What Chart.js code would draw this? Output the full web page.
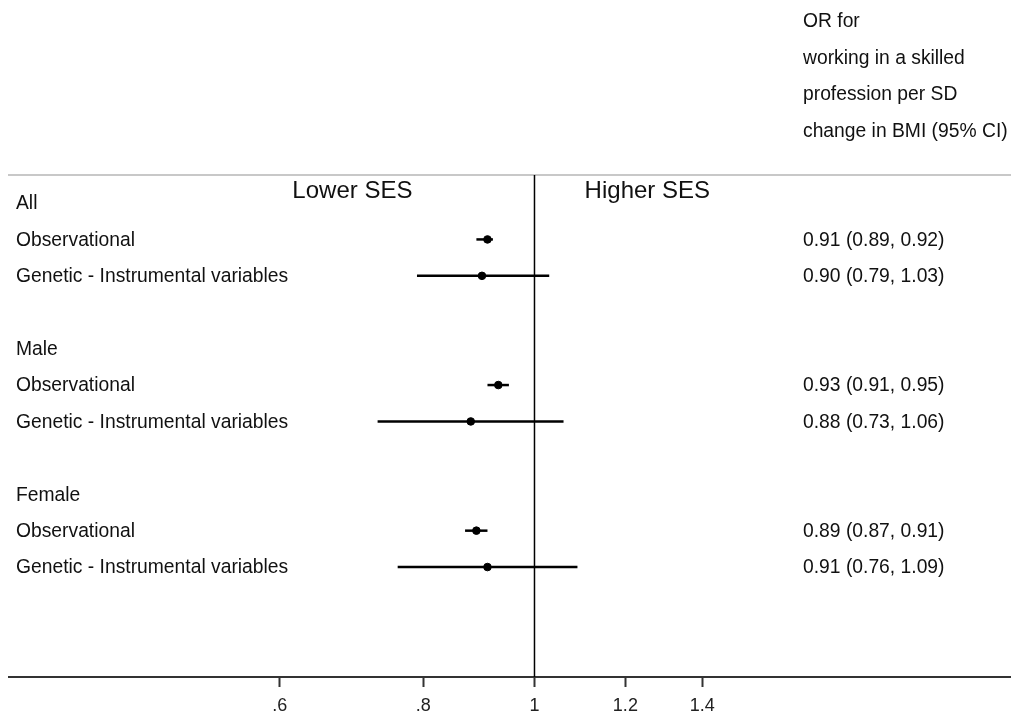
<!DOCTYPE html>
<html>
<head>
<meta charset="utf-8">
<script src="https://cdn.jsdelivr.net/npm/chart.js@4.4.1/dist/chart.umd.min.js"></script>
<style>
  html, body { margin: 0; padding: 0; background: #fff; }
  #forest { display: block; }
</style>
</head>
<body>
<canvas id="forest" width="1011" height="715"></canvas>
<script>
// forest plot: OR per SD change in BMI
const groups = ['All', 'Male', 'Female'];
const methods = ['Observational', 'Genetic - Instrumental variables'];
const orValues = [0.91, 0.90, 0.93, 0.88, 0.89, 0.91];
const lowerCI = [0.89, 0.79, 0.91, 0.73, 0.87, 0.76];
const upperCI = [0.92, 1.03, 0.95, 1.06, 0.91, 1.09];
const xTicks = [0.6, 0.8, 1, 1.2, 1.4];
const headerLines = ['OR for', 'working in a skilled', 'profession per SD', 'change in BMI (95% CI)'];
const sideLabels = ['Lower SES', 'Higher SES'];

// each group gets a heading row, then one row per method, then a blank row
const groupRows = groups.map((g, i) => 1 + i * 4);
const estRows = [];
groupRows.forEach(r => methods.forEach((m, j) => estRows.push(r + 1 + j)));

const fontFamily = '"Liberation Sans", Arial, sans-serif';

const ciSets = orValues.map((v, i) => ({
    type: 'line',
    data: [{ x: lowerCI[i], y: estRows[i] }, { x: upperCI[i], y: estRows[i] }],
    borderColor: '#000',
    borderWidth: 2.5,
    pointRadius: 0,
    fill: false,
}));

const textPlugin = {
    id: 'forestText',
    afterDraw(chart) {
        const ctx = chart.ctx;
        const xs = chart.scales.x;
        const ys = chart.scales.y;
        const area = chart.chartArea;
        ctx.save();
        // carry the two horizontal rules on to the right edge of the canvas
        ctx.lineWidth = 2;
        ctx.strokeStyle = '#c8c8c8';
        ctx.beginPath();
        ctx.moveTo(area.right - 2, area.top);
        ctx.lineTo(chart.width, area.top);
        ctx.stroke();
        ctx.strokeStyle = '#333';
        ctx.beginPath();
        ctx.moveTo(area.right - 2, area.bottom);
        ctx.lineTo(chart.width, area.bottom);
        ctx.stroke();

        ctx.fillStyle = '#111';
        ctx.textBaseline = 'middle';
        ctx.textAlign = 'left';
        ctx.font = '19.3px ' + fontFamily;

        groups.forEach((g, i) => {
            ctx.fillText(g, 16, ys.getPixelForValue(groupRows[i]) + 1);
        });
        estRows.forEach((r, i) => {
            const y = ys.getPixelForValue(r) + 1;
            ctx.fillText(methods[i % methods.length], 16, y);
            const txt = orValues[i].toFixed(2) + ' (' + lowerCI[i].toFixed(2) + ', ' + upperCI[i].toFixed(2) + ')';
            ctx.fillText(txt, 803, y);
        });
        headerLines.forEach((t, i) => {
            ctx.fillText(t, 803, ys.getPixelForValue(i - headerLines.length) + 1);
        });

        ctx.font = '24px ' + fontFamily;
        ctx.textAlign = 'center';
        ctx.fillText(sideLabels[0], xs.getPixelForValue(0.694), ys.getPixelForValue(0.67));
        ctx.fillText(sideLabels[1], xs.getPixelForValue(1.254), ys.getPixelForValue(0.67));
        ctx.restore();
    }
};

new Chart(document.getElementById('forest'), {
    type: 'scatter',
    data: {
        datasets: [
            {
                type: 'line',
                data: [{ x: 1, y: 0.23 }, { x: 1, y: 14.02 }],
                borderColor: '#000',
                borderWidth: 1.5,
                pointRadius: 0,
            },
            ...ciSets,
            {
                data: orValues.map((v, i) => ({ x: v, y: estRows[i] })),
                backgroundColor: '#000',
                borderColor: '#000',
                pointRadius: 3.8,
            },
        ],
    },
    options: {
        responsive: false,
        animation: false,
        layout: { padding: { left: 9, right: 0, top: 175, bottom: 0 } },
        plugins: {
            legend: { display: false },
            tooltip: { enabled: false },
        },
        scales: {
            x: {
                type: 'logarithmic',
                position: 'bottom',
                bounds: 'data',
                min: 0.3485,
                max: 2.575,
                afterBuildTicks: (scale) => {
                    scale.ticks = xTicks.map(v => ({ value: v }));
                },
                afterFit: (scale) => {
                    scale.height = 38;
                },
                ticks: {
                    autoSkip: false,
                    maxRotation: 0,
                    padding: 10,
                    color: '#222',
                    font: { family: fontFamily, size: 18, lineHeight: 1 },
                    callback: (v) => (v < 1 ? String(v).replace('0.', '.') : String(v)),
                },
                grid: {
                    drawOnChartArea: false,
                    drawTicks: true,
                    tickLength: 10,
                    tickWidth: 2,
                    tickColor: '#333',
                },
                border: { color: '#333', width: 2 },
            },
            xTop: {
                type: 'linear',
                position: 'top',
                min: 0,
                max: 1,
                ticks: { display: false },
                grid: { display: false, drawTicks: false },
                border: { color: '#c8c8c8', width: 2 },
            },
            y: {
                type: 'linear',
                display: false,
                reverse: true,
                min: 0.23,
                max: 14.02,
            },
        },
    },
    plugins: [textPlugin],
});
</script>
</body>
</html>
